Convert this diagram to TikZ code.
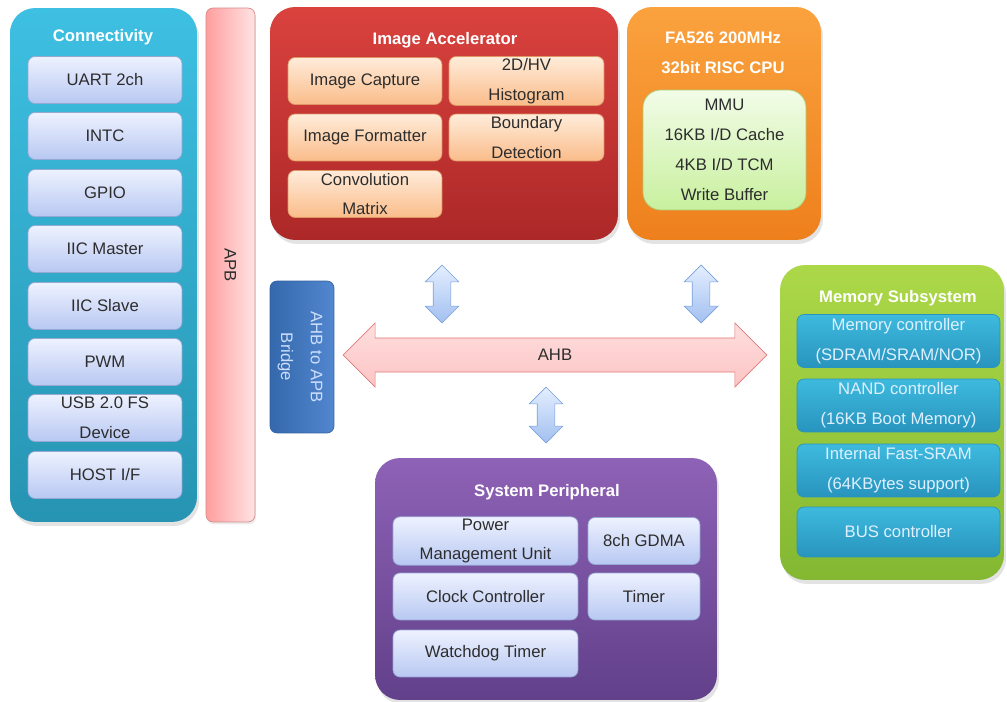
\documentclass[tikz,border=0pt]{standalone}
\usepackage{fontspec}
\setmainfont{Liberation Sans}
\usepackage{tikz}
\usetikzlibrary{shapes.arrows,shadows}
\definecolor{conntop}{RGB}{62,192,226}
\definecolor{connbot}{RGB}{38,148,178}
\definecolor{lavtop}{RGB}{238,242,255}
\definecolor{lavbot}{RGB}{184,200,242}
\definecolor{lavline}{RGB}{150,168,212}
\definecolor{apbdark}{RGB}{255,158,158}
\definecolor{apblight}{RGB}{255,228,228}
\definecolor{apbline}{RGB}{215,138,138}
\definecolor{imgtop}{RGB}{218,66,62}
\definecolor{imgbot}{RGB}{172,40,40}
\definecolor{peachtop}{RGB}{255,236,218}
\definecolor{peachbot}{RGB}{250,188,138}
\definecolor{peachline}{RGB}{222,150,100}
\definecolor{cputop}{RGB}{250,162,62}
\definecolor{cpubot}{RGB}{238,128,28}
\definecolor{greentop}{RGB}{242,252,232}
\definecolor{greenbot}{RGB}{200,240,158}
\definecolor{greenline}{RGB}{170,205,120}
\definecolor{bridgeclr}{RGB}{62,122,202}
\definecolor{bridgetxt}{RGB}{205,222,252}
\definecolor{ahbfill}{RGB}{252,196,196}
\definecolor{ahbtop}{RGB}{255,222,222}
\definecolor{ahbline}{RGB}{226,122,122}
\definecolor{smalltop}{RGB}{228,238,255}
\definecolor{smallbot}{RGB}{162,192,240}
\definecolor{smallline}{RGB}{122,160,220}
\definecolor{memtop}{RGB}{172,216,72}
\definecolor{membot}{RGB}{132,184,50}
\definecolor{memintop}{RGB}{62,186,222}
\definecolor{meminbot}{RGB}{40,148,190}
\definecolor{memtxt}{RGB}{222,240,255}
\definecolor{systop}{RGB}{142,98,182}
\definecolor{sysbot}{RGB}{98,64,138}
\definecolor{txtclr}{RGB}{45,45,45}
\tikzset{
    group/.style={rectangle,rounded corners=0.5cm,inner sep=0pt,
        drop shadow={opacity=0.22,shadow xshift=0.4mm,shadow yshift=-0.8mm}},
    conn/.style={group,top color=conntop,bottom color=connbot},
    imgacc/.style={group,top color=imgtop,bottom color=imgbot},
    cpu/.style={group,top color=cputop,bottom color=cpubot},
    mem/.style={group,top color=memtop,bottom color=membot},
    sysper/.style={group,top color=systop,bottom color=sysbot},
    grouptitle/.style={text=white,align=center,inner sep=1pt,
        font=\fontsize{9.5}{17}\selectfont\bfseries},
    inbox/.style={rectangle,rounded corners=4pt,minimum height=0.94cm,inner sep=1pt,
        align=center,text=txtclr,thin},
    lav/.style={inbox,top color=lavtop,bottom color=lavbot,draw=lavline},
    peach/.style={inbox,top color=peachtop,bottom color=peachbot,draw=peachline},
    meminbox/.style={inbox,minimum width=4.06cm,minimum height=1.06cm,text=memtxt,
        top color=memintop,bottom color=meminbot,draw=meminbot},
    busarrow/.style={double arrow,double arrow head extend=0.3cm,minimum width=1.28cm,
        minimum height=8.48cm,inner xsep=1pt,inner ysep=0.22cm,top color=ahbtop,
        bottom color=ahbfill,draw=ahbline,text=txtclr},
    linkarrow/.style={double arrow,rotate=90,double arrow head extend=0.16cm,
        minimum width=0.66cm,inner xsep=0pt,inner ysep=0.17cm,top color=smalltop,
        bottom color=smallbot,draw=smallline},
}
\newcommand{\downtext}[1]{\rotatebox{-90}{\begin{tabular}{@{}c@{}}#1\end{tabular}}}
\begin{document}
\begin{tikzpicture}[x=0.02cm,y=-0.02cm,every node/.style={font=\fontsize{9.5}{17}\selectfont}]
\useasboundingbox[fill=white] (0,0) rectangle (1007,702);
% Connectivity
\node[conn,minimum width=3.74cm,minimum height=10.28cm] (conn) at (103.5,265) {};
\node[grouptitle] (conntitle) at (103,37) {Connectivity};
\node[lav,minimum width=3.08cm] (uart) at (105,80)  {UART 2ch};
\node[lav,minimum width=3.08cm] (intc) at (105,136) {INTC};
\node[lav,minimum width=3.08cm] (gpio) at (105,193) {GPIO};
\node[lav,minimum width=3.08cm] (iicm) at (105,249) {IIC Master};
\node[lav,minimum width=3.08cm] (iics) at (105,306) {IIC Slave};
\node[lav,minimum width=3.08cm] (pwm)  at (105,362) {PWM};
\node[lav,minimum width=3.08cm] (usb)  at (105,418) {USB 2.0 FS\\Device};
\node[lav,minimum width=3.08cm] (host) at (105,475) {HOST I/F};

% APB bus
\node[rectangle,rounded corners=4pt,minimum width=0.98cm,minimum height=10.28cm,
    left color=apbdark,right color=apblight,draw=apbline,text=txtclr,
    drop shadow={opacity=0.15,shadow xshift=0.2mm,shadow yshift=-0.5mm}] (apb) at (230.5,265) {\downtext{APB}};

% Image Accelerator
\node[imgacc,minimum width=6.96cm,minimum height=4.66cm] (img) at (444,123.5) {};
\node[grouptitle] (imgtitle) at (445,40) {Image Accelerator};
\node[peach,minimum width=3.08cm] (capture)  at (365,81)    {Image Capture};
\node[peach,minimum width=3.1cm]  (histo)    at (526.5,81)  {2D/HV\\Histogram};
\node[peach,minimum width=3.08cm] (format)   at (365,137.5) {Image Formatter};
\node[peach,minimum width=3.1cm]  (boundary) at (526.5,137.5) {Boundary\\Detection};
\node[peach,minimum width=3.08cm] (conv)     at (365,194)   {Convolution\\Matrix};

% CPU
\node[cpu,minimum width=3.88cm,minimum height=4.66cm] (cpu) at (724,123.5) {};
\node[grouptitle] (cputitle) at (723,53) {FA526 200MHz\\32bit RISC CPU};
\node[inbox,rounded corners=0.35cm,minimum width=3.26cm,minimum height=2.4cm,
    top color=greentop,bottom color=greenbot,draw=greenline] (core) at (724.5,150)
    {MMU\\16KB I/D Cache\\4KB I/D TCM\\Write Buffer};

% AHB bus and bridge
\node[rectangle,rounded corners=4pt,minimum width=1.28cm,minimum height=3.04cm,inner sep=1pt,
    left color=bridgeclr!85!black,right color=bridgeclr!90!white,draw=bridgeclr!80!black,
    text=bridgetxt] (bridge) at (302,357) {\downtext{AHB to APB\\Bridge}};
\node[busarrow] (ahb) at (555,355) {AHB};
\node[linkarrow,minimum height=1.16cm] (imglink) at (442,294) {};
\node[linkarrow,minimum height=1.16cm] (cpulink) at (701,294) {};
\node[linkarrow,minimum height=1.12cm] (syslink) at (546,415) {};

% Memory Subsystem
\node[mem,minimum width=4.48cm,minimum height=6.3cm] (mem) at (892,422.5) {};
\node[grouptitle] (memtitle) at (898,298) {Memory Subsystem};
\node[meminbox] (memctl)  at (898.5,341)   {Memory controller\\(SDRAM/SRAM/NOR)};
\node[meminbox] (nandctl) at (898.5,405.5) {NAND controller\\(16KB Boot Memory)};
\node[meminbox] (sram)    at (898.5,470.5) {Internal Fast-SRAM\\(64KBytes support)};
\node[meminbox,minimum height=1cm] (busctl) at (898.5,532) {BUS controller};

% System Peripheral
\node[sysper,minimum width=6.84cm,minimum height=4.84cm] (sys) at (546,579) {};
\node[grouptitle] (systitle) at (547,492) {System Peripheral};
\node[lav,minimum width=3.7cm]  (pmu)      at (485.5,541)   {Power\\Management Unit};
\node[lav,minimum width=2.24cm] (gdma)     at (644,541)     {8ch GDMA};
\node[lav,minimum width=3.7cm]  (clk)      at (485.5,596.5) {Clock Controller};
\node[lav,minimum width=2.24cm] (timer)    at (644,596.5)   {Timer};
\node[lav,minimum width=3.7cm]  (watchdog) at (485.5,653.5) {Watchdog Timer};
\end{tikzpicture}
\end{document}
